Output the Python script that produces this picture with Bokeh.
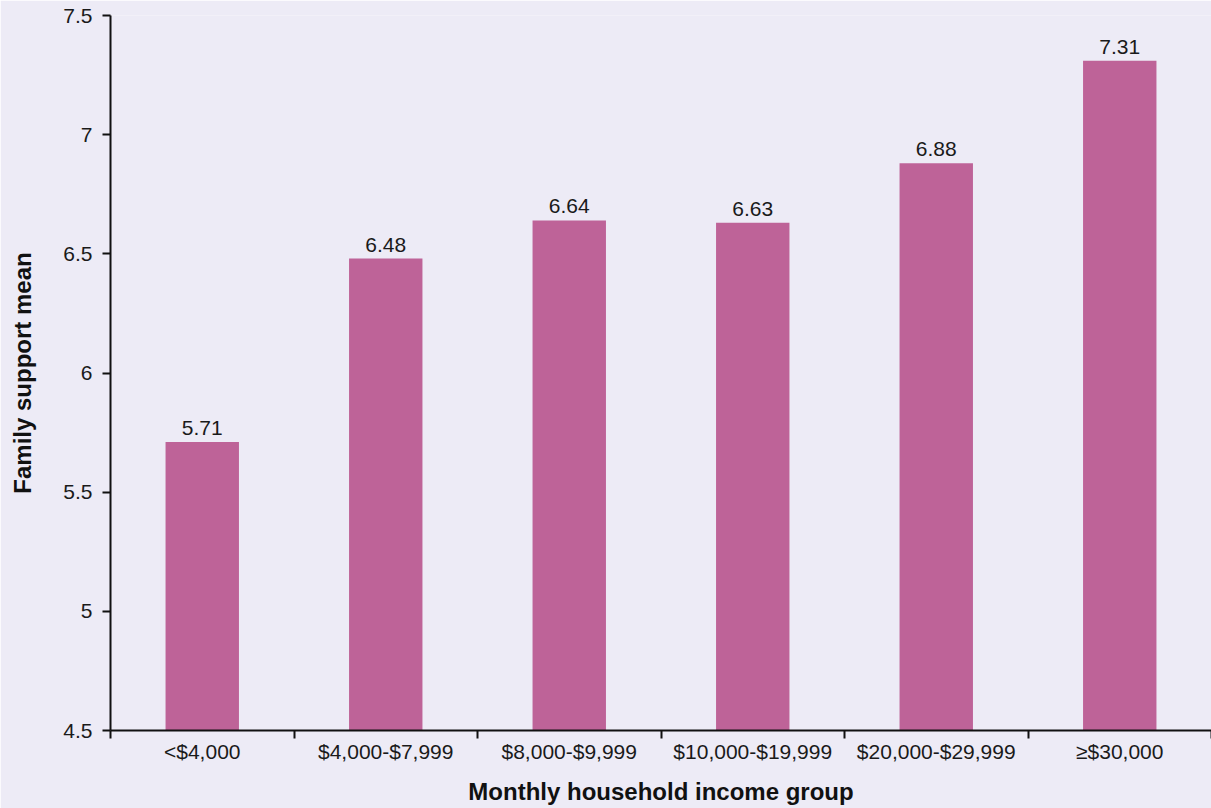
from bokeh.plotting import figure
from bokeh.models import ColumnDataSource, FixedTicker, NumeralTickFormatter, Range1d
from bokeh.core.properties import value
from bokeh.embed import file_html
from bokeh.resources import INLINE

# Family support mean by monthly household income group
income_groups = ["<$4,000", "$4,000-$7,999", "$8,000-$9,999",
                 "$10,000-$19,999", "$20,000-$29,999", "\u2265$30,000"]
support_mean = [5.71, 6.48, 6.64, 6.63, 6.88, 7.31]
y_ticks = [4.5, 5, 5.5, 6, 6.5, 7, 7.5]

FONT = "Liberation Sans"
BG = "#EDEBF6"
BAR = "#BE6398"

centers = [i + 0.5 for i in range(len(income_groups))]
src = ColumnDataSource(dict(
    x=centers,
    y=support_mean,
    label=[f"{v:.2f}" for v in support_mean],
))

p = figure(width=1211, height=808, output_backend="svg", toolbar_location=None,
           x_range=Range1d(0, len(income_groups)), y_range=Range1d(4.5, 7.5),
           min_border_left=110, min_border_right=0, min_border_top=15,
           min_border_bottom=78)
p.background_fill_color = BG
p.border_fill_color = BG
p.outline_line_color = None
p.grid.grid_line_color = None

p.vbar(x="x", top="y", bottom=4.5, width=0.4, source=src,
       fill_color=BAR, line_color=None)

p.text(x="x", y="y", text="label", source=src, y_offset=-7,
       text_align="center", text_baseline="bottom",
       text_font=value(FONT), text_font_size="21px", text_color="#1a1a1a")

# y axis
ya = p.yaxis[0]
ya.ticker = FixedTicker(ticks=y_ticks)
ya.formatter = NumeralTickFormatter(format="0.[0]")
ya.axis_line_width = 2
ya.axis_line_color = "#111111"
ya.major_tick_line_width = 2
ya.major_tick_line_color = "#111111"
ya.major_tick_out = 8
ya.major_tick_in = 0
ya.minor_tick_line_color = None
ya.major_label_standoff = 10
ya.major_label_text_font = FONT
ya.major_label_text_font_size = "21px"
ya.major_label_text_color = "#1a1a1a"
ya.axis_label = "Family support mean"
ya.axis_label_text_font = FONT
ya.axis_label_text_font_style = "bold"
ya.axis_label_text_font_size = "24px"
ya.axis_label_text_color = "#111111"
ya.axis_label_standoff = 24

# x axis: labels at category centres, tick marks at category boundaries
xa = p.xaxis[0]
xa.ticker = FixedTicker(ticks=centers,
                        minor_ticks=list(range(len(income_groups) + 1)))
xa.major_label_overrides = {c: g for c, g in zip(centers, income_groups)}
xa.axis_line_width = 2
xa.axis_line_color = "#111111"
xa.major_tick_line_color = None
xa.major_tick_out = 0
xa.major_tick_in = 0
xa.minor_tick_line_color = "#111111"
xa.minor_tick_line_width = 2
xa.minor_tick_out = 8
xa.minor_tick_in = 0
xa.major_label_standoff = 1
xa.major_label_text_font = FONT
xa.major_label_text_font_size = "21px"
xa.major_label_text_color = "#1a1a1a"
xa.axis_label = "Monthly household income group"
xa.axis_label_text_font = FONT
xa.axis_label_text_font_style = "bold"
xa.axis_label_text_font_size = "24px"
xa.axis_label_text_color = "#111111"
xa.axis_label_standoff = 12

open("out.html", "w").write(file_html(p, INLINE))
